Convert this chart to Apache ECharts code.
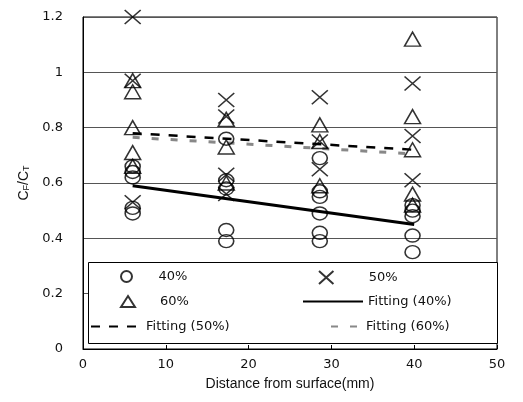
<!DOCTYPE html>
<html><head><meta charset="utf-8">
<script src="https://cdn.jsdelivr.net/npm/echarts@6/dist/echarts.min.js"></script>
<style>html,body{margin:0;padding:0;background:#fff}#c{width:523px;height:402px}</style>
</head><body><div id="c"></div>
<script>
// Distances (mm) of the four measurement depths
const xPos = [6, 17.3, 28.6, 39.8];
// Measured CF/CT values per depth
const vals40 = [[0.66, 0.64, 0.62, 0.51, 0.49], [0.76, 0.61, 0.58, 0.43, 0.39], [0.69, 0.57, 0.55, 0.49, 0.42, 0.39], [0.52, 0.50, 0.48, 0.41, 0.35]];
const vals50 = [[1.20, 0.97, 0.53], [0.90, 0.84, 0.63, 0.56], [0.91, 0.75, 0.65], [0.96, 0.77, 0.61]];
const vals60 = [[0.97, 0.93, 0.80, 0.71, 0.66], [0.83, 0.73, 0.60], [0.81, 0.75, 0.59], [1.12, 0.84, 0.72, 0.56, 0.52]];
// Fitting lines (end points)
const fitX = [6, 40];
const fit40 = [0.59, 0.45];
const fit50 = [0.78, 0.72];
const fit60 = [0.765, 0.705];
const xTicks = [0, 10, 20, 30, 40, 50];
const yTicks = [0, 0.2, 0.4, 0.6, 0.8, 1, 1.2];
const names = ['40%', '50%', '60%', 'Fitting (40%)', 'Fitting (50%)', 'Fitting (60%)'];

function pts(v) { const out = []; v.forEach((col, i) => col.forEach(y => out.push([xPos[i], y]))); return out; }
function line(v) { return fitX.map((x, i) => [x, v[i]]); }

const FONT = 'Liberation Sans';
const FONT2 = 'DejaVu Sans';
const crossPath = 'path://M0,0L10,9M10,0L0,9';
const hollow = { color: 'rgba(0,0,0,0)', borderColor: '#000', borderWidth: 1.5 };

const chart = echarts.init(document.getElementById('c'));
function leg(name, left, top, iw, ih, pad, isLine) {
  return {
    data: [isLine ? { name: name, itemStyle: { opacity: 0 } } : name],
    left: left, top: top, itemWidth: iw, itemHeight: ih, padding: 0, selectedMode: false, z: 10,
    textStyle: { fontFamily: FONT2, fontSize: 13, color: '#111', padding: [0, 0, 0, pad] }
  };
}
chart.setOption({
  animation: false,
  backgroundColor: '#fff',
  grid: { left: 83, right: 26, top: 17, bottom: 53, show: true, borderColor: '#000', borderWidth: 1 },
  xAxis: {
    type: 'value', min: xTicks[0], max: xTicks[xTicks.length - 1], interval: 10,
    name: 'Distance from surface(mm)', nameLocation: 'middle', nameGap: 28,
    nameTextStyle: { fontFamily: FONT, fontSize: 14, color: '#111' },
    axisLine: { lineStyle: { color: '#000' } },
    axisTick: { inside: true, length: 4, lineStyle: { color: '#000' } },
    axisLabel: { fontFamily: FONT2, fontSize: 13, color: '#111', margin: 9 },
    splitLine: { show: false }
  },
  yAxis: {
    type: 'value', min: yTicks[0], max: yTicks[yTicks.length - 1], interval: 0.2,
    name: 'C{s|F}/C{s|T}', nameLocation: 'middle', nameGap: 43, nameRotate: 90,
    nameTextStyle: { fontFamily: FONT, fontSize: 14, color: '#111', rich: { s: { fontFamily: FONT, fontSize: 9, color: '#111', verticalAlign: 'bottom', padding: [4, 0, 0, 0] } } },
    axisLine: { show: true, lineStyle: { color: '#000' } },
    axisTick: { show: false },
    axisLabel: { fontFamily: FONT2, fontSize: 13, color: '#111', margin: 20 },
    splitLine: { show: true, lineStyle: { color: '#555', width: 1 } }
  },
  graphic: [{ type: 'rect', left: 88, top: 262, shape: { width: 409, height: 81 }, style: { fill: '#fff', stroke: '#000', lineWidth: 1 }, z: 5 }],
  legend: [
    leg(names[0], 120, 270, 14, 11, 20, false),
    leg(names[1], 318, 270, 15, 13, 30, false),
    leg(names[2], 120, 295, 14, 11, 20, false),
    leg(names[3], 302, 295, 60, 12, 0, true),
    leg(names[4], 90, 320, 50, 12, 0, true),
    leg(names[5], 330, 320, 28, 12, 2, true)
  ],
  series: [
    { name: names[0], type: 'scatter', data: pts(vals40), symbol: 'circle', symbolSize: [15, 13], itemStyle: hollow, z: 3 },
    { name: names[1], type: 'scatter', data: pts(vals50), symbol: crossPath, symbolSize: [16, 14], itemStyle: hollow, z: 3 },
    { name: names[2], type: 'scatter', data: pts(vals60), symbol: 'triangle', symbolSize: [16, 14], itemStyle: hollow, z: 3 },
    { name: names[3], type: 'line', data: line(fit40), symbol: 'none', lineStyle: { color: '#000', width: 3 }, itemStyle: { color: '#000' }, z: 2 },
    { name: names[4], type: 'line', data: line(fit50), symbol: 'none', lineStyle: { color: '#000', width: 2.5, type: [9, 9] }, itemStyle: { color: '#000' }, z: 2 },
    { name: names[5], type: 'line', data: line(fit60), symbol: 'none', lineStyle: { color: '#888', width: 3, type: [7, 12] }, itemStyle: { color: '#888' }, z: 2 }
  ]
});
</script></body></html>
